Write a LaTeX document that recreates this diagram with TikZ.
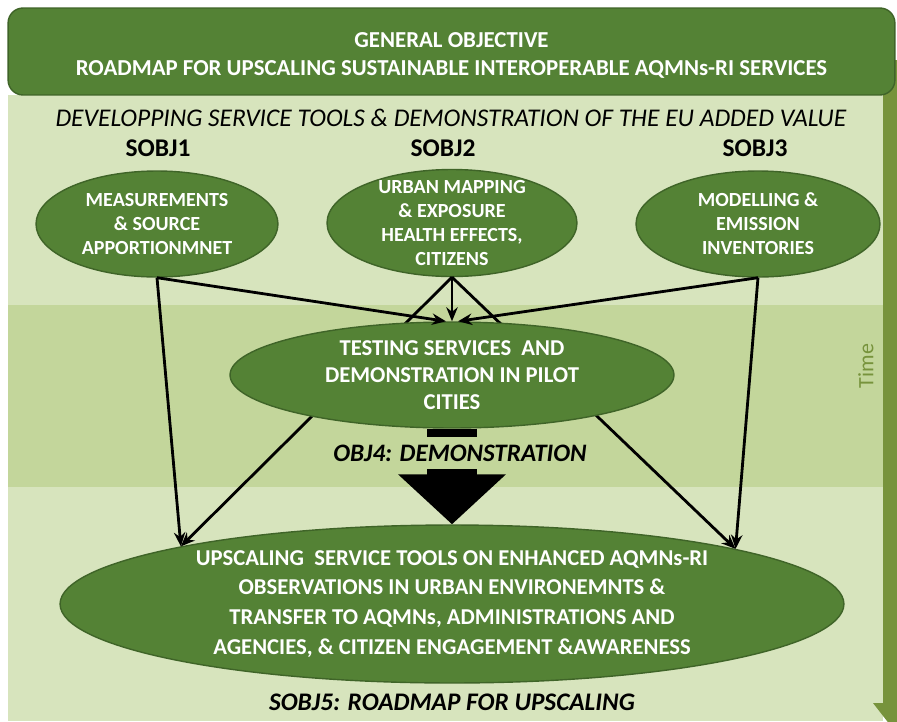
\documentclass[tikz,border=0pt]{standalone}
\usepackage{fontspec}
\setmainfont{Carlito}
\usetikzlibrary{shapes.geometric,arrows.meta}
\definecolor{bandlight}{HTML}{D7E4BD}
\definecolor{bandmid}{HTML}{C3D69B}
\definecolor{leafgreen}{HTML}{548235}
\definecolor{leafedge}{HTML}{3F6428}
\definecolor{olivebar}{HTML}{77933C}

\begin{document}
\begin{tikzpicture}[x=0.02cm,y=-0.02cm,
  >={Stealth[length=8pt,width=6.5pt]},
  goal/.style={ellipse,draw=leafedge,thick,fill=leafgreen,text=white,align=center,
    inner xsep=0pt,inner ysep=-6pt,font=\bfseries\fontsize{11.4}{13.6}\selectfont},
  sobj/.style={font=\bfseries\fontsize{14.5}{16}\selectfont},
  link/.style={->,line width=1.6pt}]

\useasboundingbox (0,0) rectangle (897,721);
% bands
\fill[bandlight] (8,95) rectangle (883,305);
\fill[bandmid] (8,305) rectangle (883,487);
\fill[bandlight] (8,487) rectangle (883,721);
% time arrow
\begin{scope}
\clip (0,0) rectangle (897,721);
\fill[olivebar] (883,60) -- (905,60) -- (905,703) -- (915,703) -- (894,730) -- (873,703) -- (883,703) -- cycle;
\end{scope}
\node[rotate=90,text=olivebar,font=\fontsize{12.5}{14}\selectfont] (time) at (866,366) {Time};

\node[draw=leafedge,thick,fill=leafgreen,rounded corners=0.3cm,minimum width=17.74cm,minimum height=1.74cm] (general) at (451.5,51.5) {};
\node[text=white,align=center,font=\bfseries\fontsize{13}{16}\selectfont] (goaltext) at ([yshift=-0.08cm]general.center)
  {GENERAL OBJECTIVE\\ROADMAP FOR UPSCALING SUSTAINABLE INTEROPERABLE AQMNs-RI SERVICES};

\node[font=\itshape\fontsize{14.5}{16}\selectfont] (develop) at (451,118)
  {DEVELOPPING SERVICE TOOLS \& DEMONSTRATION OF THE EU ADDED VALUE};
\node[sobj] (s1) at (158,148) {SOBJ1};
\node[sobj] (s2) at (443,148) {SOBJ2};
\node[sobj] (s3) at (755,148) {SOBJ3};

\node[goal,minimum width=4.84cm,minimum height=2.12cm] (meas) at (157,224)
  {MEASUREMENTS\\\& SOURCE\\APPORTIONMNET};
\node[goal,minimum width=5cm,minimum height=2.14cm] (map) at (452,223)
  {URBAN MAPPING\\\& EXPOSURE\\HEALTH EFFECTS,\\CITIZENS};
\node[goal,minimum width=4.88cm,minimum height=2.12cm] (model) at (758,224)
  {MODELLING \&\\EMISSION\\INVENTORIES};

\node[goal,minimum width=15.68cm,minimum height=3.16cm,font=\bfseries\fontsize{12.9}{17}\selectfont] (upscale) at (452,604)
  {UPSCALING\ \ SERVICE TOOLS ON ENHANCED AQMNs-RI\\OBSERVATIONS IN URBAN ENVIRONEMNTS \&\\TRANSFER TO AQMNs, ADMINISTRATIONS AND\\AGENCIES, \& CITIZEN ENGAGEMENT \&AWARENESS};

% these two run behind the pilot cities
\draw[link] (map.south) -- (upscale.168.5);
\draw[link] (map.south) -- (upscale.11.5);

\node[goal,minimum width=8.88cm,minimum height=2.12cm,font=\bfseries\fontsize{12.9}{15.3}\selectfont] (test) at (452,375)
  {TESTING SERVICES\ \ AND\\DEMONSTRATION IN PILOT\\CITIES};

\draw[link] (meas.south) -- ([xshift=-0.12cm]test.north);
\draw[link] (map.south) -- (test.north);
\draw[link] (model.south) -- ([xshift=0.12cm]test.north);
\draw[link] (meas.south) -- (upscale.168.5);
\draw[link] (model.south) -- (upscale.11.5);

\draw[line width=1cm,-{Triangle[length=1cm,width=2.1cm]}] (test.south) -- (upscale.north);
\node[fill=bandmid,inner xsep=2pt,inner ysep=4.5pt,font=\bfseries\itshape\fontsize{14.3}{16}\selectfont] (demo) at (460,453)
  {OBJ4: DEMONSTRATION};
\node[font=\bfseries\itshape\fontsize{14.4}{16}\selectfont] (roadmap) at (452,702)
  {SOBJ5: ROADMAP FOR UPSCALING};
\end{tikzpicture}
\end{document}
